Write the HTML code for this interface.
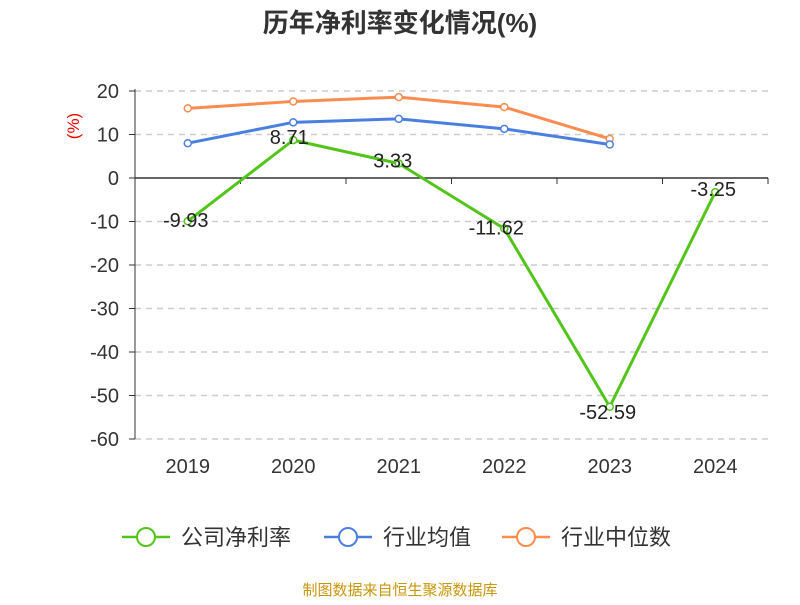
<!DOCTYPE html>
<html><head><meta charset="utf-8"><style>
body{margin:0;background:#fff;}
svg text{font-family:"Liberation Sans","Noto Sans CJK SC",sans-serif;}
</style></head><body>
<svg width="800" height="600" xmlns="http://www.w3.org/2000/svg">
<text x="400" y="32" text-anchor="middle" font-size="26" font-weight="bold" fill="#333">历年净利率变化情况(%)</text>
<text transform="translate(79,126) rotate(-90)" text-anchor="middle" font-size="17" fill="#e00">(%)</text>
<g id="grid"></g><g id="axes"></g><g id="series"></g>
<g>
 <g><line x1="122" y1="537" x2="170" y2="537" stroke="#52c41a" stroke-width="2.5"/><circle cx="146" cy="537" r="9" fill="#fff" stroke="#52c41a" stroke-width="2"/><text x="181" y="545" font-size="22" fill="#333">公司净利率</text></g>
 <g><line x1="324" y1="537" x2="372" y2="537" stroke="#4a7fe0" stroke-width="2.5"/><circle cx="348" cy="537" r="9" fill="#fff" stroke="#4a7fe0" stroke-width="2"/><text x="383" y="545" font-size="22" fill="#333">行业均值</text></g>
 <g><line x1="502" y1="537" x2="550" y2="537" stroke="#fa8c50" stroke-width="2.5"/><circle cx="526" cy="537" r="9" fill="#fff" stroke="#fa8c50" stroke-width="2"/><text x="561" y="545" font-size="22" fill="#333">行业中位数</text></g>
</g>
<text x="400" y="595" text-anchor="middle" font-size="15" fill="#c8960a">制图数据来自恒生聚源数据库</text>
</svg>
<script>
const categories=["2019","2020","2021","2022","2023","2024"];
const companyValues=[-9.93,8.71,3.33,-11.62,-52.59,-3.25];
const industryAvg=[8.0,12.8,13.6,11.3,7.7];
const industryMedian=[16.0,17.6,18.6,16.3,9.0];
const yTicks=[20,10,0,-10,-20,-30,-40,-50,-60];
const NS="http://www.w3.org/2000/svg";
const L=135,R=768,Y20=91,Y60=439;
function y(v){return Y20+(20-v)*(Y60-Y20)/80;}
const bw=(R-L)/categories.length;
function x(i){return L+bw*(i+0.5);}
function mk(tag,a,p){const e=document.createElementNS(NS,tag);for(const k in a)e.setAttribute(k,a[k]);p.appendChild(e);return e;}
const grid=document.getElementById('grid'),axes=document.getElementById('axes'),ser=document.getElementById('series');
yTicks.forEach(t=>{
 if(t!==0){const g=mk('line',{x1:L,x2:R,y1:y(t),y2:y(t),stroke:'#ccc','stroke-dasharray':'6,5','stroke-width':1.5},grid);
 
 }
 const tk=mk('line',{x1:L-6,x2:L,y1:y(t),y2:y(t),stroke:'#333'},axes);
 
 
 const tx=mk('text',{x:L-16,y:y(t)+7,'text-anchor':'end','font-size':20,fill:'#333'},axes);tx.textContent=t;
 
 
});
const ya=mk('line',{x1:L,x2:L,y1:y(20)-2,y2:y(-60),stroke:'#333'},axes);


const xa=mk('line',{x1:L,x2:R,y1:y(0),y2:y(0),stroke:'#333','stroke-width':1.5},axes);


for(let i=0;i<=categories.length;i++){const t=mk('line',{x1:L+bw*i,x2:L+bw*i,y1:y(0),y2:y(0)+6,stroke:'#333'},axes);
 
 }
categories.forEach((c,i)=>{const t=mk('text',{x:x(i),y:473,'text-anchor':'middle','font-size':20,fill:'#333'},axes);t.textContent=c;
 
 });
const labelDx=[-2,-4,-6,-8,-2,-2];
const labelDy=[6,4,4,6,12,4];
function line(vals,color,name,labels){
 const pts=vals.map((v,i)=>x(i)+','+y(v)).join(' ');
 const pl=mk('polyline',{points:pts,fill:'none',stroke:color,'stroke-width':3},ser);
 
 
 vals.forEach((v,i)=>{const c=mk('circle',{cx:x(i),cy:y(v),r:3.5,fill:'#fff',stroke:color,'stroke-width':1.5},ser);
  
  
  if(labels){const t=mk('text',{x:x(i)+labelDx[i],y:y(v)+labelDy[i],'text-anchor':'middle','font-size':20,fill:'#222'},ser);t.textContent=v;
   
   }
 });
}
line(industryMedian,'#fa8c50','industry-median',false);
line(industryAvg,'#4a7fe0','industry-average',false);
line(companyValues,'#52c41a','company-net-margin',true);
</script>
</body></html>
